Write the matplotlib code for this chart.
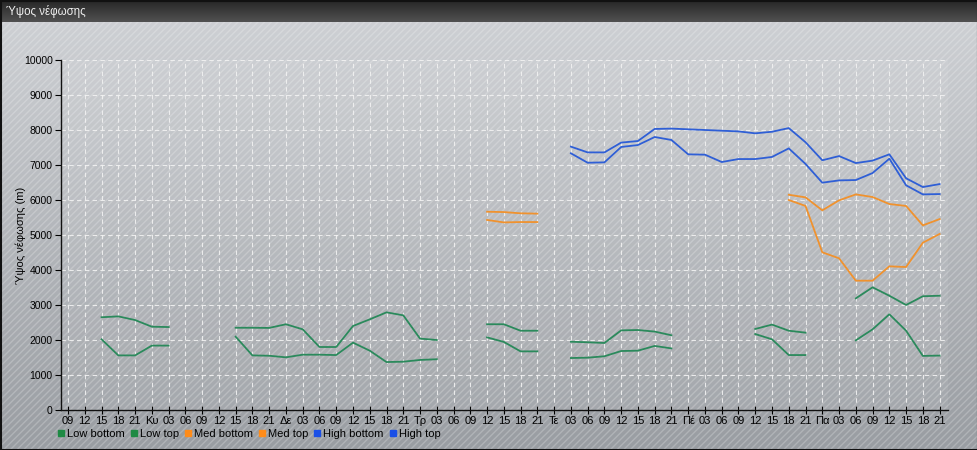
import numpy as np
import matplotlib
matplotlib.use("Agg")
import matplotlib.pyplot as plt
from matplotlib.patches import Rectangle
from matplotlib.lines import Line2D

plt.rcParams['font.family'] = ['Liberation Sans', 'DejaVu Sans']

N = None
# x tick labels (3-hourly)
tick_labels = (['09', '12', '15', '18', '21'] +
               ['Κυ', '03', '06', '09', '12', '15', '18', '21'] +
               ['Δε', '03', '06', '09', '12', '15', '18', '21'] +
               ['Τρ', '03', '06', '09', '12', '15', '18', '21'] +
               ['Τε', '03', '06', '09', '12', '15', '18', '21'] +
               ['Πέ', '03', '06', '09', '12', '15', '18', '21'] +
               ['Πα', '03', '06', '09', '12', '15', '18', '21'])

low_bottom = [N, N, 2020, 1560, 1560, 1840, 1840, N, N, N,
              2095, 1560, 1550, 1505, 1580, 1580, 1570, 1925, 1695, 1370,
              1380, 1430, 1450, N, N, 2075, 1945, 1675, 1675, N,
              1485, 1495, 1535, 1685, 1695, 1830, 1760, N, N, N,
              N, 2170, 2020, 1570, 1570, N, N, 1990, 2305, 2735,
              2265, 1545, 1555]
low_top = [N, N, 2650, 2675, 2570, 2380, 2370, N, N, N,
           2350, 2350, 2345, 2450, 2305, 1800, 1800, 2400, 2590, 2790,
           2705, 2040, 2000, N, N, 2450, 2450, 2265, 2265, N,
           1950, 1935, 1915, 2275, 2285, 2240, 2135, N, N, N,
           N, 2315, 2440, 2265, 2210, N, N, 3190, 3505, 3265,
           3000, 3250, 3265]
med_bottom = [N] * 25 + [5430, 5360, 5370, 5370] + [N] * 14 + \
             [6000, 5830, 4505, 4335, 3695, 3695, 4105, 4085, 4780, 5030]
med_top = [N] * 25 + [5665, 5655, 5620, 5610] + [N] * 14 + \
          [6150, 6075, 5705, 5990, 6160, 6085, 5885, 5830, 5275, 5455]
high_bottom = [N] * 30 + [7335, 7065, 7075, 7515, 7570, 7800, 7715, 7305, 7295, 7085,
                          7170, 7170, 7230, 7475, 7030, 6495, 6560, 6570, 6770, 7180,
                          6420, 6160, 6170]
high_top = [N] * 30 + [7525, 7360, 7360, 7640, 7685, 8030, 8040, 8020, 8000, 7980,
                       7960, 7905, 7950, 8055, 7650, 7135, 7255, 7055, 7125, 7305,
                       6620, 6370, 6455]

series_names = ['Low bottom', 'Low top', 'Med bottom', 'Med top', 'High bottom', 'High top']
series_values = [low_bottom, low_top, med_bottom, med_top, high_bottom, high_top]
line_colors = ['#2b8a5c', '#2b8a5c', '#f0922e', '#f0922e', '#2f5fd6', '#2f5fd6']
legend_colors = ['#1e8a44', '#1e8a44', '#ff8c1a', '#ff8c1a', '#1a4fe6', '#1a4fe6']

W, H = 978, 450
fig = plt.figure(figsize=(W / 100, H / 100), dpi=100)

# ---- background ----
bg = fig.add_axes([0, 0, 1, 1], zorder=-10)
bg.set_xlim(0, W)
bg.set_ylim(H, 0)
bg.axis('off')
grad = np.linspace(0, 1, 256).reshape(-1, 1)
top_c = np.array([0.805, 0.815, 0.830])
bot_c = np.array([0.600, 0.615, 0.635])
img = top_c + (bot_c - top_c) * grad[..., None]
img = np.repeat(img, 2, axis=1)
bg.imshow(img, extent=[0, W, H, 22], aspect='auto', interpolation='bilinear')
bg.add_patch(Rectangle((0, 22), W, H - 22, facecolor='none',
                       edgecolor=(1, 1, 1, 0.22), lw=0, hatch='/////'))
tb = np.linspace(0, 1, 64).reshape(-1, 1)
tc0 = np.array([0.15, 0.15, 0.15])
tc1 = np.array([0.32, 0.32, 0.32])
timg = tc0 + (tc1 - tc0) * tb[..., None]
timg = np.repeat(timg, 2, axis=1)
bg.imshow(timg, extent=[0, W, 22, 0], aspect='auto', interpolation='bilinear')
bg.add_patch(Rectangle((0.5, 0.5), W - 1, H - 1, facecolor='none', edgecolor='#111111', lw=1.5))
bg.text(6, 12, 'Ύψος νέφωσης', color='#f0f0f0', fontsize=8.3, va='center', ha='left')

# ---- main axes ----
ax = fig.add_axes([61 / W, 40 / H, (948 - 61) / W, 350 / H])
ax.set_facecolor((1, 1, 1, 0.07))
x = np.arange(len(tick_labels))
for name, vals, c in zip(series_names, series_values, line_colors):
    y = np.array([np.nan if v is None else v for v in vals], dtype=float)
    ax.plot(x, y, color=c, lw=1.3, solid_joinstyle='round')

ax.set_xlim(-0.42, len(tick_labels) - 1 + 0.5)
ax.set_ylim(0, 10000)
ax.set_xticks(x)
ax.set_xticklabels(tick_labels)
ax.set_yticks(np.arange(0, 10001, 1000))
ax.tick_params(axis='x', direction='inout', length=6, width=0.8, labelsize=8, pad=1)
ax.tick_params(axis='y', direction='out', length=4, width=0.8, labelsize=7.5, pad=2)
for s in ['top', 'right']:
    ax.spines[s].set_visible(False)
for s in ['left', 'bottom']:
    ax.spines[s].set_color('#111111')
    ax.spines[s].set_linewidth(1.0)
ax.grid(True, color='#f2f2f2', lw=0.8, linestyle=(0, (4, 3)), alpha=0.9)
ax.set_axisbelow(True)
ax.set_ylabel('Ύψος νέφωσης (m)', fontsize=8)
ax.yaxis.set_label_coords(-35 / 887, 0.5)

handles = [Line2D([], [], marker='s', ls='', color=c, markersize=5, markeredgecolor=c)
           for c in legend_colors]
ax.legend(handles, series_names, ncol=6, frameon=False, loc='upper left',
          bbox_to_anchor=(-0.003, -0.055), handlelength=0.5, handletextpad=0.3,
          columnspacing=0.55, fontsize=8, borderaxespad=0, borderpad=0)

fig.savefig('out.png', dpi=100)
